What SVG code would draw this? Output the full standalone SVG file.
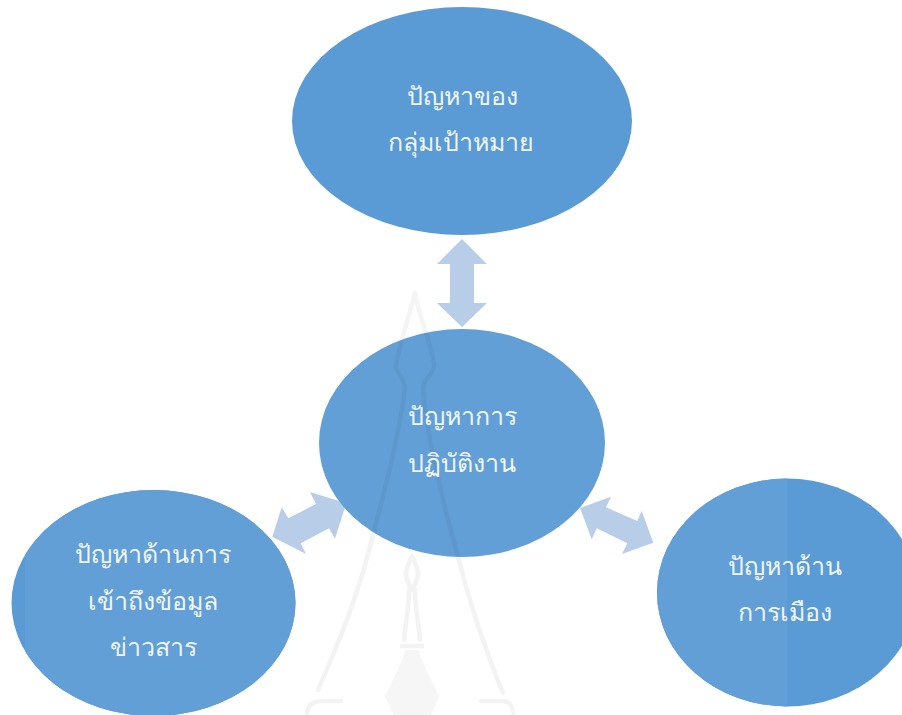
<svg xmlns="http://www.w3.org/2000/svg" width="902" height="715" viewBox="0 0 902 715">
<style>
.n{fill:#5b9bd5}.l{fill:#629fd6}
.a{fill:#b7cde8}
.t{font-family:"Noto Sans","Liberation Sans","DejaVu Sans",sans-serif;font-size:25px;fill:#fff;fill-opacity:.92;text-anchor:middle;font-weight:300}
.w{fill:none;stroke:#000;stroke-width:4.5;stroke-linejoin:round;stroke-linecap:round}
</style>
<defs>
<clipPath id="lc"><rect x="25" y="480" width="300" height="235"/></clipPath>
<clipPath id="rc"><rect x="640" y="470" width="147" height="245"/></clipPath>
</defs>
<g id="connectors">
<polygon class="a" points="462,239 487,264 474,264 474,303 487,303 462,327 437,303 450,303 450,264 437,264"/>
<polygon class="a" points="346.3,503.3 310,492 316,504 288.3,518.3 281.7,507.3 272.3,536.7 306,554 300.7,543.3 329,528.3 335,538.7"/>
<polygon class="a" points="580,508 611,496.7 606,507.3 637.3,521 641.7,511 653.3,542.7 622,554 627.3,543.3 596.7,528.3 591.7,539.3"/>
</g>
<g id="node-top"><ellipse class="n" cx="462" cy="121" rx="170" ry="114"/>
<text class="t" x="462" y="105">ปัญหาของ</text><text class="t" x="461" y="151">กลุ่มเป้าหมาย</text></g>
<g id="node-center"><ellipse class="l" cx="462" cy="443" rx="143" ry="114"/></g>
<g id="node-left"><ellipse class="n" cx="153.5" cy="603" rx="142" ry="113"/><ellipse class="l" cx="153.5" cy="603" rx="142" ry="113" clip-path="url(#lc)"/></g>
<g id="node-right"><ellipse class="n" cx="787" cy="592.5" rx="130" ry="114"/><ellipse class="l" cx="787" cy="592.5" rx="130" ry="114" clip-path="url(#rc)"/></g>
<g id="watermark" opacity="0.045">
<path class="w" d="M318,690 C335,650 358,600 375,527 C385,490 400,430 405,387 C403,375 395,372 396,365 C398,350 408,320 415,293 C420,320 432,345 434,365 C434,375 424,378 423,387 C425,430 445,510 457,553 C470,605 485,650 503,693"/>
<path class="w" d="M307,713 C308,703 315,701 322,701 L341,701 M513,713 C512,703 508,701 502,701 L481,701"/>
<path class="w" d="M412,556 C409,562 406,568 406,574 C406,580 410,586 412,590 C414,586 418,580 418,574 C418,568 415,562 412,556 Z M409,590 C409,610 405,625 404,640 M415,590 C415,610 419,625 420,640 M402,646 L422,646"/>
<path d="M405,650 L419,650 C422,665 432,680 439,697 L431,715 L394,715 L385,697 C392,680 402,665 405,650 Z" fill="#000" fill-opacity="0.75"/>
</g>
<g id="labels">
<text class="t" x="462" y="425">ปัญหาการ</text><text class="t" x="462" y="472">ปฏิบัติงาน</text>
<text class="t" x="153" y="563">ปัญหาด้านการ</text><text class="t" x="153" y="610">เข้าถึงข้อมูล</text><text class="t" x="153" y="656">ข่าวสาร</text>
<text class="t" x="785" y="575">ปัญหาด้าน</text><text class="t" x="785" y="621">การเมือง</text>
</g>
</svg>
